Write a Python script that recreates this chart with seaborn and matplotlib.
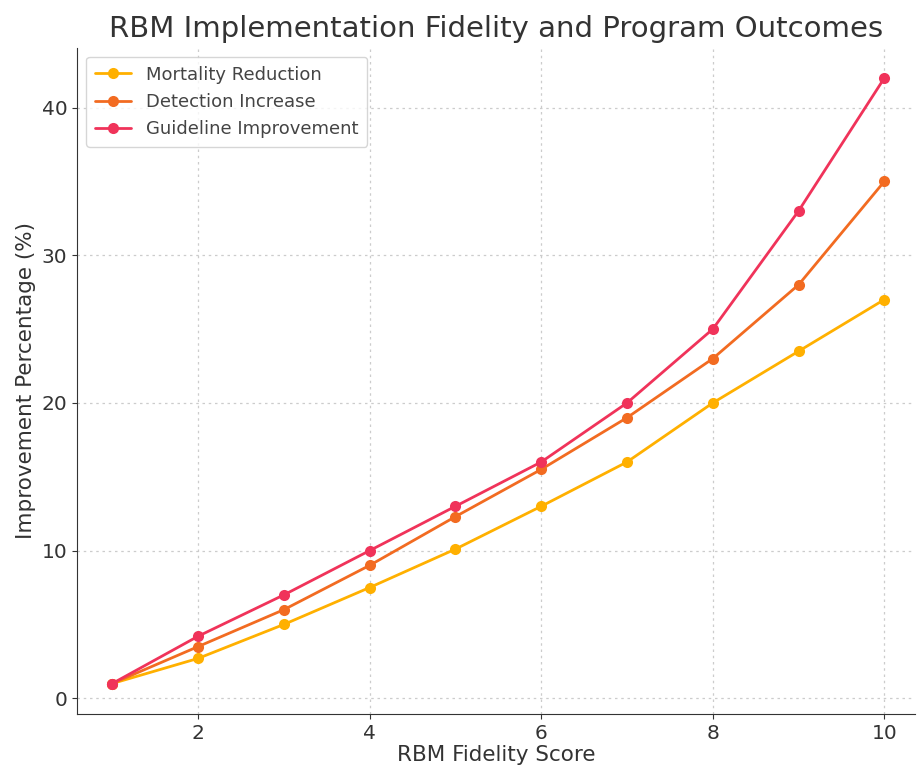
import matplotlib
matplotlib.use("Agg")
import matplotlib.pyplot as plt
import pandas as pd
import seaborn as sns

# values
fidelity = [1, 2, 3, 4, 5, 6, 7, 8, 9, 10]
mortality = [1, 2.7, 5, 7.5, 10.1, 13, 16, 20, 23.5, 27]
detection = [1, 3.5, 6, 9, 12.3, 15.5, 19, 23, 28, 35]
guideline = [1, 4.2, 7, 10, 13, 16, 20, 25, 33, 42]

series = {
    "Mortality Reduction": mortality,
    "Detection Increase": detection,
    "Guideline Improvement": guideline,
}

rows = []
for name, vals in series.items():
    for x, v in zip(fidelity, vals):
        rows.append([name, x, v])
df = pd.DataFrame(rows, columns=["outcome", "score", "pct"])

sns.set_style("ticks")
plt.rcParams["font.family"] = ["DejaVu Sans"]

my_pal = {
    "Mortality Reduction": "#FFB000",
    "Detection Increase": "#F26B21",
    "Guideline Improvement": "#F0335A",
}

fig = plt.figure(figsize=(9.18, 7.7), dpi=100)
plt.subplots_adjust(left=0.084, right=0.997, top=0.938, bottom=0.073)
ax = plt.gca()

sns.lineplot(data=df, x="score", y="pct", hue="outcome", palette=my_pal,
             marker="o", markersize=8, markeredgewidth=0, linewidth=2,
             ax=ax)

ax.set_xlim(0.59, 10.36)
ax.grid(True, linestyle=(0, (2, 3)), color="#cccccc", linewidth=0.9)
sns.despine(ax=ax)
ax.spines["left"].set_color("#333333")
ax.spines["bottom"].set_color("#333333")

ax.set_title("RBM Implementation Fidelity and Program Outcomes",
             fontsize=21, color="#333333", pad=8)
ax.set_xlabel("RBM Fidelity Score", fontsize=15.5, color="#333333", labelpad=2)
ax.set_ylabel("Improvement Percentage (%)", fontsize=15.5, color="#333333")
ax.tick_params(labelsize=14.5, colors="#333333")

ax.legend(loc="upper left", fontsize=13, frameon=True,
          labelcolor="#444444", borderpad=0.5)

plt.savefig("out.png", dpi=100)
